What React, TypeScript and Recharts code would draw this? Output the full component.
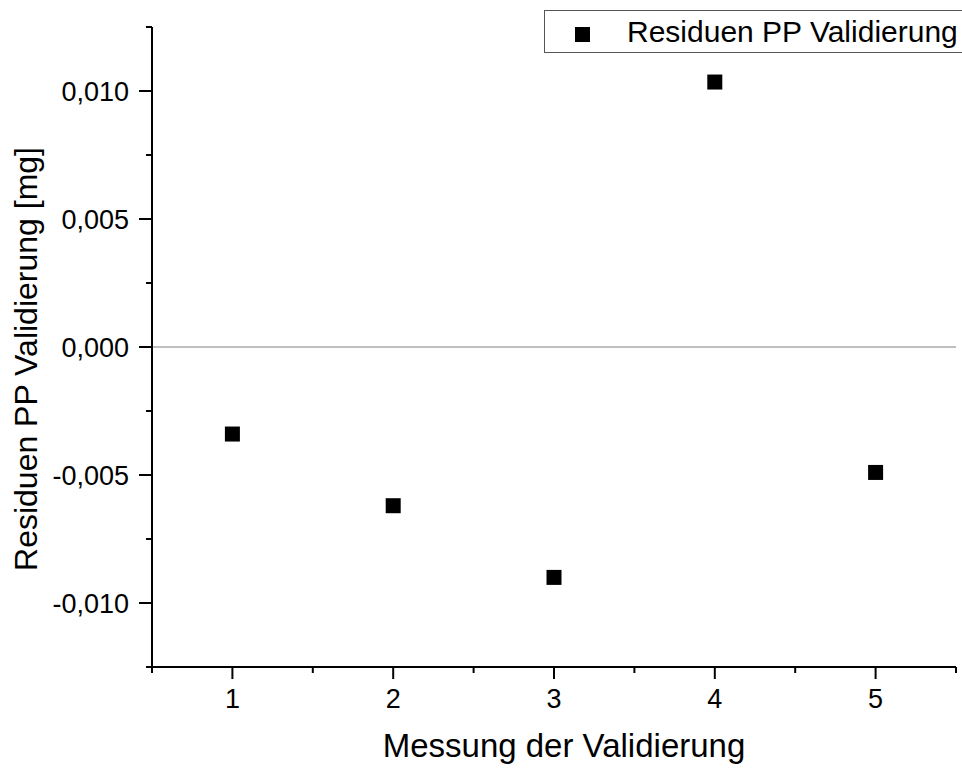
import { ScatterChart, Scatter, XAxis, YAxis, ReferenceLine, Legend } from 'recharts';

const measurements = [1, 2, 3, 4, 5];
const residuals = [-0.0034, -0.0062, -0.009, 0.01035, -0.0049];

const xMajorTicks = [1, 2, 3, 4, 5];
const xMinorTicks = [0.5, 1.5, 2.5, 3.5, 4.5, 5.5];
const yMajorTicks = [-0.01, -0.005, 0, 0.005, 0.01];
const yMinorTicks = [-0.0125, -0.0075, -0.0025, 0.0025, 0.0075, 0.0125];

const seriesName = 'Residuen PP Validierung';
const xTitle = 'Messung der Validierung';
const yTitle = 'Residuen PP Validierung [mg]';

const data = measurements.map((m, i) => ({ x: m, y: residuals[i] }));

const FONT = '"Liberation Sans", Arial, sans-serif';

const fmtY = (v: number) => v.toFixed(3).replace('.', ',');

const XTick = (props: any) => {
    const { x, y, payload } = props;
    const major = xMajorTicks.includes(payload.value);
    return (
        <g>
            <line x1={x} x2={x} y1={y} y2={y + (major ? 12 : 6)} stroke="#000" strokeWidth={2} />
            {major && (
                <text x={x} y={y + 41} textAnchor="middle" style={{ fontSize: 27, fontFamily: FONT }} fill="#000">
                    {payload.value}
                </text>
            )}
        </g>
    );
};

const YTick = (props: any) => {
    const { x, y, payload } = props;
    const major = yMajorTicks.some(t => Math.abs(t - payload.value) < 1e-9);
    return (
        <g>
            <line x1={x} x2={x - (major ? 13 : 6)} y1={y} y2={y} stroke="#000" strokeWidth={2} />
            {major && (
                <text x={x - 23} y={y + 9.5} textAnchor="end" style={{ fontSize: 27, fontFamily: FONT }} fill="#000">
                    {fmtY(payload.value)}
                </text>
            )}
        </g>
    );
};

const XTitle = ({ viewBox }: any) => (
    <text
        x={viewBox.x + viewBox.width / 2 + 10}
        y={viewBox.y + 90}
        textAnchor="middle"
        style={{ fontSize: 33, fontFamily: FONT }}
        fill="#000"
    >
        {xTitle}
    </text>
);

const YTitle = ({ viewBox }: any) => (
    <text
        transform={`translate(37, ${viewBox.y + viewBox.height / 2 + 12}) rotate(-90)`}
        textAnchor="middle"
        style={{ fontSize: 32, fontFamily: FONT }}
        fill="#000"
    >
        {yTitle}
    </text>
);

const SquareDot = (props: any) => {
    const { cx, cy } = props;
    return <rect x={cx - 7.5} y={cy - 7.5} width={15} height={15} fill="#000" />;
};

const LegendBox = () => (
    <div
        style={{
            width: 418,
            height: 43,
            border: '1px solid #555',
            borderRight: 'none',
            background: '#fff',
            boxSizing: 'border-box',
            position: 'relative',
            fontFamily: FONT,
            fontSize: 30,
            color: '#000',
        }}
    >
        <div style={{ position: 'absolute', left: 30, top: 16, width: 15, height: 15, background: '#000' }} />
        <div style={{ position: 'absolute', left: 82, top: 3, whiteSpace: 'nowrap', lineHeight: '36px' }}>{seriesName}</div>
    </div>
);

export default function App() {
    return (
        <div style={{ position: 'absolute', left: 0, top: 0, width: 962, height: 769, background: '#fff', overflow: 'hidden' }}>
            <ScatterChart width={962} height={769} margin={{ top: 27, right: 6, bottom: 0, left: 0 }}>
                <XAxis
                    type="number"
                    dataKey="x"
                    domain={[0.5, 5.5]}
                    ticks={[...xMinorTicks, ...xMajorTicks].sort((a, b) => a - b)}
                    interval={0}
                    height={102}
                    tickSize={0}
                    tickMargin={0}
                    tickLine={false}
                    tick={<XTick />}
                    axisLine={{ stroke: '#000', strokeWidth: 2 }}
                    allowDataOverflow
                    label={{ content: <XTitle /> }}
                />
                <YAxis
                    type="number"
                    dataKey="y"
                    domain={[-0.0125, 0.0125]}
                    ticks={[...yMinorTicks, ...yMajorTicks].sort((a, b) => a - b)}
                    interval={0}
                    width={152}
                    tickSize={0}
                    tickMargin={0}
                    tickLine={false}
                    tick={<YTick />}
                    axisLine={{ stroke: '#000', strokeWidth: 2 }}
                    allowDataOverflow
                    label={{ content: <YTitle /> }}
                />
                <ReferenceLine y={0} stroke="#808080" strokeWidth={1} />
                <Legend
                    layout="horizontal"
                    verticalAlign="middle"
                    align="center"
                    content={<LegendBox />}
                    wrapperStyle={{ position: 'absolute', left: 544, top: 10, width: 418, right: 'auto', bottom: 'auto' }}
                />
                <Scatter name={seriesName} data={data} fill="#000" shape={<SquareDot />} isAnimationActive={false} />
            </ScatterChart>
        </div>
    );
}
